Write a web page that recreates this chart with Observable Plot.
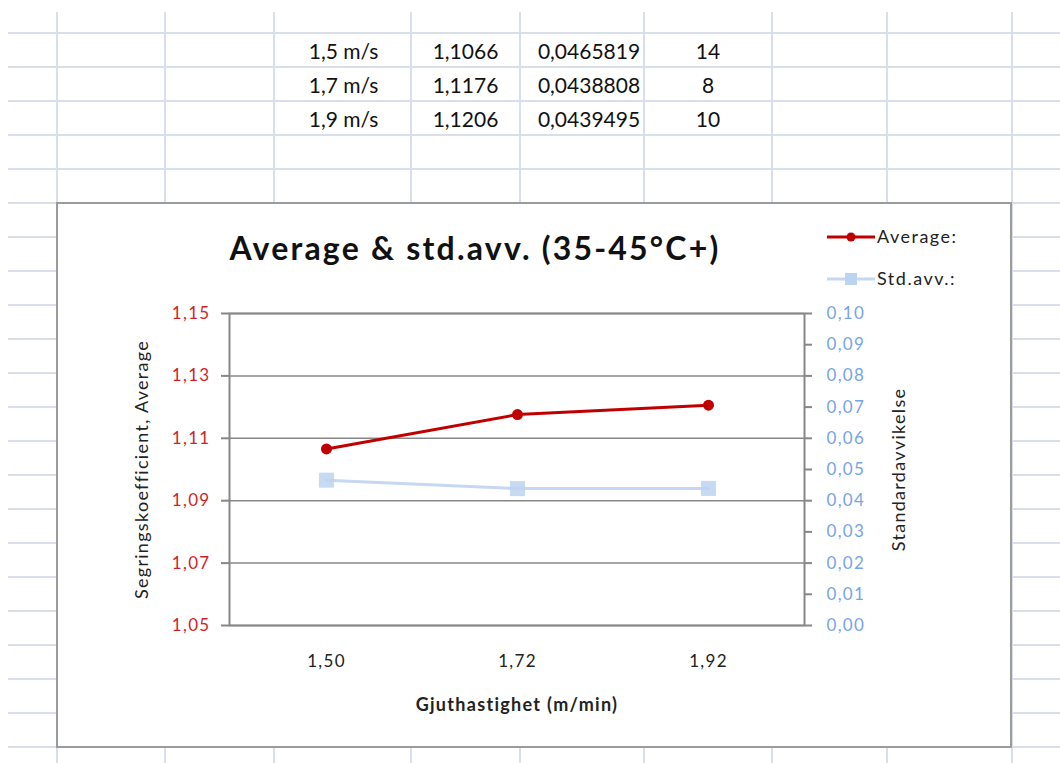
<!DOCTYPE html>
<html>
<head>
<meta charset="utf-8">
<script src="https://cdn.jsdelivr.net/npm/d3@7"></script>
<script src="https://cdn.jsdelivr.net/npm/@observablehq/plot@0.6"></script>
<style>
  html, body { margin: 0; padding: 0; background: #fff; }
  #page { position: relative; width: 1060px; height: 763px; overflow: hidden; font-family: Lato, "Open Sans", sans-serif; }
  .abs { position: absolute; }
  .cell { position: absolute; display: flex; align-items: center; justify-content: center; font-size: 21px; color: #111; }
  #chartbox { position: absolute; left: 56px; top: 202px; width: 956px; height: 546px; box-sizing: border-box; border: 2px solid #9b9b9b; background: #fff; }
  #title { position: absolute; left: 150px; width: 650px; top: 228px; text-align: center; font-weight: bold; font-size: 32px; letter-spacing: 2.2px; color: #111; }
  #plot svg text { letter-spacing: 1.3px; }
  #legend text { letter-spacing: 1.5px; }
</style>
</head>
<body>
<div id="page">
  <svg id="sheet" class="abs" width="1060" height="763" style="left:0;top:0"></svg>
  <div id="table"></div>
  <div id="chartbox"></div>
  <div id="title"></div>
  <div id="plot" class="abs" style="left:0;top:0"></div>
  <svg id="legend" class="abs" width="190" height="80" style="left:815px;top:215px"></svg>
</div>
<script>
// ---- data ----
const speedLabels = ["1,5 m/s", "1,7 m/s", "1,9 m/s"];
const xLabels = ["1,50", "1,72", "1,92"];
const averages = [1.1066, 1.1176, 1.1206];
const stdDevs = [0.0465819, 0.0438808, 0.0439495];
const counts = [14, 8, 10];
const leftTicks = [1.05, 1.07, 1.09, 1.11, 1.13, 1.15];
const rightTicks = [0.00, 0.01, 0.02, 0.03, 0.04, 0.05, 0.06, 0.07, 0.08, 0.09, 0.10];
const seriesNames = ["Average:", "Std.avv.:"];
const titleText = "Average & std.avv. (35-45°C+)";
const xTitle = "Gjuthastighet (m/min)";
const yLeftTitle = "Segringskoefficient, Average";
const yRightTitle = "Standardavvikelse";

document.getElementById("title").textContent = titleText;

// ---- spreadsheet background ----
const colEdges = [57, 165, 274, 411, 520, 644, 772, 887, 1012];
const rowEdges = d3.range(33, 763, 34);
const sheet = d3.select("#sheet");
sheet.selectAll("line.h").data(rowEdges).join("line")
  .attr("x1", 8).attr("x2", 1060).attr("y1", d => d).attr("y2", d => d)
  .attr("stroke", "#d8deea").attr("stroke-width", 2);
sheet.selectAll("line.v").data(colEdges).join("line")
  .attr("x1", d => d).attr("x2", d => d).attr("y1", 12).attr("y2", 763)
  .attr("stroke", "#d8deea").attr("stroke-width", 2);

const comma = v => String(v).replace(".", ",");
const tableRows = speedLabels.map((s, i) => [s, comma(averages[i]), comma(stdDevs[i]), String(counts[i])]);
const tableCols = [[274, 411], [411, 520], [520, 644], [644, 772]];
const colShift = [1, 0, 7, 0];
const tbl = document.getElementById("table");
tableRows.forEach((row, r) => {
  row.forEach((txt, c) => {
    const d = document.createElement("div");
    d.className = "cell";
    d.style.left = (tableCols[c][0] + colShift[c]) + "px";
    d.style.width = (tableCols[c][1] - tableCols[c][0]) + "px";
    d.style.top = rowEdges[r] + "px";
    d.style.height = "34px";
    d.textContent = txt;
    tbl.appendChild(d);
  });
});

// ---- chart ----
const yLo = leftTicks[0], yHi = leftTicks[leftTicks.length - 1];
const rLo = rightTicks[0], rHi = rightTicks[rightTicks.length - 1];
const toLeft = v => yLo + (v - rLo) / (rHi - rLo) * (yHi - yLo);
const fromLeft = v => rLo + (v - yLo) / (yHi - yLo) * (rHi - rLo);
const fmt2 = v => d3.format(".2f")(v).replace(".", ",");

const data = xLabels.map((x, i) => ({x, avg: averages[i], std: stdDevs[i]}));

const red = "#c00000";
const blue = "#c5d8f1";
const axisGrey = "#878787";

const chart = Plot.plot({
  width: 1060,
  height: 763,
  marginLeft: 229,
  marginRight: 256,
  marginTop: 313,
  marginBottom: 138,
  style: {background: "transparent", fontFamily: "Lato, 'Open Sans', sans-serif", color: "#222", overflow: "visible"},
  x: {type: "point", domain: xLabels, padding: 0.5},
  y: {domain: [yLo, yHi]},
  marks: [
    Plot.gridY({ticks: leftTicks, stroke: axisGrey, strokeOpacity: 1, strokeWidth: 1.5}),
    Plot.frame({stroke: axisGrey, strokeWidth: 2}),
    Plot.axisY({anchor: "left", ticks: leftTicks, tickFormat: fmt2, tickSize: 8, tickPadding: 11,
      stroke: axisGrey, strokeWidth: 2, fill: "#d01f28", fontSize: 17, label: null}),
    Plot.axisY({anchor: "right", ticks: rightTicks.map(toLeft), tickFormat: v => fmt2(fromLeft(v)),
      tickSize: 7, tickPadding: 15, stroke: axisGrey, strokeWidth: 2, fill: "#76a5e6", fontSize: 17, label: null}),
    Plot.axisX({tickSize: 0, tickPadding: 29, fontSize: 17, fill: "#222", label: null}),
    Plot.line(data, {x: "x", y: d => toLeft(d.std), stroke: blue, strokeWidth: 3}),
    Plot.dot(data, {x: "x", y: d => toLeft(d.std), symbol: "square", r: 8.5, fill: "#bcd3f1", fillOpacity: 0.85}),
    Plot.line(data, {x: "x", y: "avg", stroke: red, strokeWidth: 3}),
    Plot.dot(data, {x: "x", y: "avg", r: 5.5, fill: red}),
    Plot.text([xTitle], {frameAnchor: "bottom", dy: 85, fontSize: 18, fontWeight: "bold", fill: "#222"}),
    Plot.text([yLeftTitle], {frameAnchor: "left", textAnchor: "middle", dx: -87, rotate: -90, fontSize: 18, fill: "#222"}),
    Plot.text([yRightTitle], {frameAnchor: "right", textAnchor: "middle", dx: 95, rotate: -90, fontSize: 18, fill: "#222"})
  ]
});
document.getElementById("plot").appendChild(chart);

// ---- legend ----
const lg = d3.select("#legend");
const legendItems = [
  {name: seriesNames[0], color: red, sym: "circle", y: 22},
  {name: seriesNames[1], color: blue, sym: "square", y: 64}
];
legendItems.forEach(it => {
  lg.append("line").attr("x1", 12).attr("x2", 60).attr("y1", it.y).attr("y2", it.y)
    .attr("stroke", it.color).attr("stroke-width", 3);
  if (it.sym === "circle") {
    lg.append("circle").attr("cx", 36).attr("cy", it.y).attr("r", 4.5).attr("fill", it.color);
  } else {
    lg.append("rect").attr("x", 30).attr("y", it.y - 6).attr("width", 12).attr("height", 12).attr("fill", "#bcd3f1");
  }
  lg.append("text").attr("x", 62).attr("y", it.y).attr("dy", "0.35em")
    .attr("font-family", "Lato, sans-serif").attr("font-size", 18).attr("fill", "#222").text(it.name);
});
</script>
</body>
</html>
